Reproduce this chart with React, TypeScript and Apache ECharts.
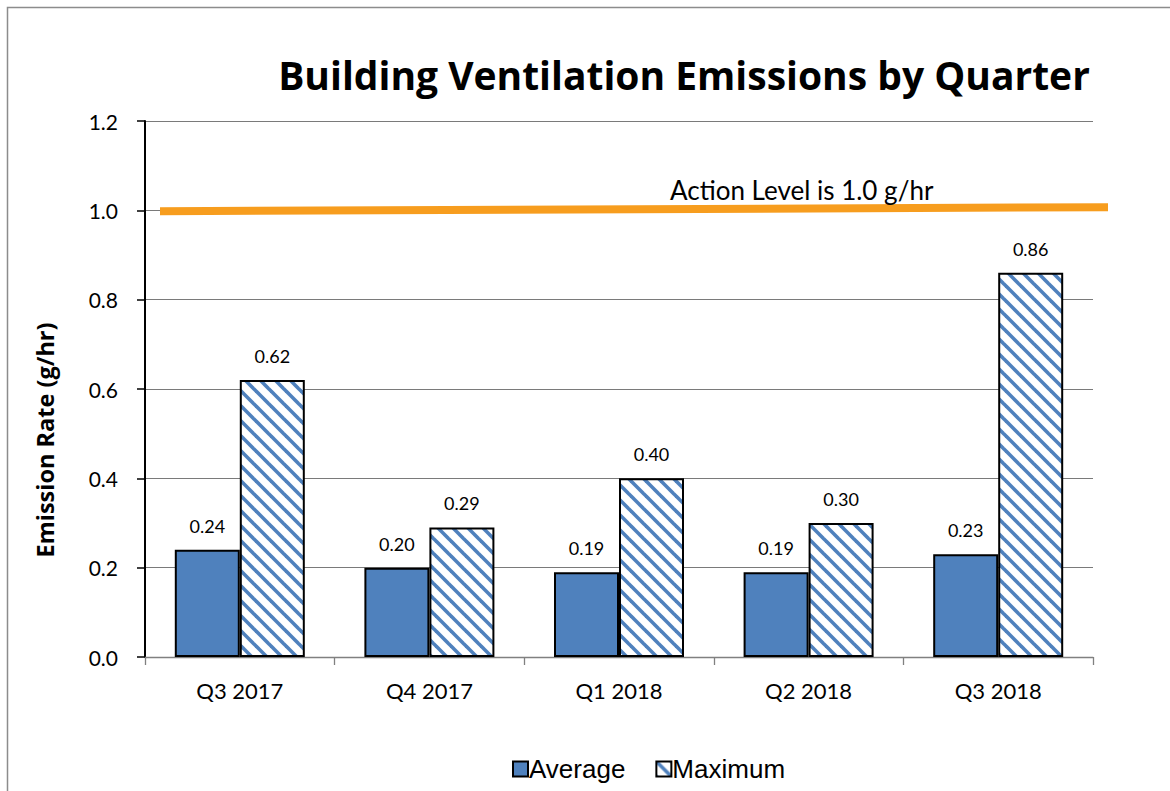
import React, { useEffect, useRef } from "react";
import * as echarts from "echarts";

const categories = ["Q3 2017", "Q4 2017", "Q1 2018", "Q2 2018", "Q3 2018"];
const averageValues = [0.24, 0.2, 0.19, 0.19, 0.23];
const maximumValues = [0.62, 0.29, 0.4, 0.3, 0.86];
const actionLevelLine = [
  [0, 0.998],
  [1, 1.007],
];
const yMin = 0;
const yMax = 1.2;
const yInterval = 0.2;

function makeHatch(): HTMLCanvasElement {
  const P = 15;
  const c = document.createElement("canvas");
  c.width = P;
  c.height = P;
  const ctx = c.getContext("2d")!;
  ctx.fillStyle = "#ffffff";
  ctx.fillRect(0, 0, P, P);
  ctx.strokeStyle = "#4F81BD";
  ctx.lineWidth = 3.6;
  for (let k = -1; k <= 1; k++) {
    ctx.beginPath();
    ctx.moveTo(k * P - 2, -2);
    ctx.lineTo(k * P + P + 2, P + 2);
    ctx.stroke();
  }
  return c;
}

export default function App() {
  const ref = useRef<HTMLDivElement>(null);
  useEffect(() => {
    const chart = echarts.init(ref.current!, undefined, { renderer: "svg" });
    const hatch = makeHatch();
    const font = "Lato";
    chart.setOption({
      animation: false,
      backgroundColor: "#ffffff",
      title: {
        text: "Building Ventilation Emissions by Quarter",
        left: 679,
        textAlign: "center",
        top: 50,
        textStyle: { fontFamily: "Open Sans", fontWeight: "bold", fontSize: 39, color: "#000" },
      },
      legend: {
        left: 507,
        top: 751,
        itemWidth: 15,
        itemHeight: 15,
        itemGap: 30,
        icon: "rect",
        textStyle: { fontFamily: "Liberation Sans", fontSize: 26, color: "#000", padding: [0, 0, 0, -4] },
        data: ["Average", "Maximum"],
      },
      graphic: [
        {
          type: "rect",
          shape: { x: 7.5, y: 7.5, width: 1300, height: 1000 },
          style: { fill: "none", stroke: "#8c8c8c", lineWidth: 1.5 },
          silent: true,
          z: -1,
        },
        {
          type: "text",
          left: 670,
          top: 177,
          style: { text: "Action Level is 1.0 g/hr", fontFamily: font, fontSize: 26, fill: "#000" },
          z: 10,
        },
        {
          type: "text",
          x: 45,
          y: 440,
          rotation: Math.PI / 2,
          style: {
            text: "Emission Rate (g/hr)",
            fontFamily: "Open Sans",
            fontWeight: "bold",
            fontSize: 23.5,
            fill: "#000",
            align: "center",
            verticalAlign: "middle",
          },
        },
      ],
      grid: [
        { left: 145, right: 77, top: 121, bottom: 134 },
        { left: 160, right: 62, top: 121, bottom: 134 },
      ],
      xAxis: [
        {
          type: "category",
          data: categories,
          gridIndex: 0,
          axisLine: { lineStyle: { color: "#808080", width: 1.3 } },
          axisTick: { show: true, length: 8, lineStyle: { color: "#808080", width: 1.3 } },
          axisLabel: { fontFamily: font, fontSize: 22, color: "#000", margin: 22 },
        },
        { type: "value", gridIndex: 1, min: 0, max: 1, show: false },
      ],
      yAxis: [
        {
          type: "value",
          gridIndex: 0,
          min: yMin,
          max: yMax,
          interval: yInterval,
          axisLine: { show: true, lineStyle: { color: "#000", width: 2 } },
          axisTick: { show: true, length: 8, lineStyle: { color: "#000", width: 1.5 } },
          axisLabel: {
            fontFamily: font,
            fontSize: 21,
            color: "#000",
            margin: 27,
            formatter: (v: number) => v.toFixed(1),
          },
          splitLine: { lineStyle: { color: "#7a7a7a", width: 1 } },
        },
        { type: "value", gridIndex: 1, min: yMin, max: yMax, show: false },
      ],
      series: [
        {
          name: "Average",
          type: "bar",
          data: averageValues,
          barWidth: 65,
          barGap: "0%",
          itemStyle: { color: "#4F81BD", borderColor: "#000", borderWidth: 2 },
          label: {
            show: true,
            position: "top",
            distance: 15,
            fontFamily: font,
            fontSize: 18,
            color: "#000",
            formatter: (p: any) => Number(p.value).toFixed(2),
          },
        },
        {
          name: "Maximum",
          type: "bar",
          data: maximumValues,
          barWidth: 65,
          barGap: "0%",
          itemStyle: {
            color: { image: hatch, repeat: "repeat" },
            borderColor: "#000",
            borderWidth: 2,
          },
          label: {
            show: true,
            position: "top",
            distance: 15,
            fontFamily: font,
            fontSize: 18,
            color: "#000",
            formatter: (p: any) => Number(p.value).toFixed(2),
          },
        },
        {
          name: "Action Level",
          type: "line",
          xAxisIndex: 1,
          yAxisIndex: 1,
          data: actionLevelLine,
          symbol: "none",
          lineStyle: { color: "#F79D1E", width: 8 },
          z: 5,
          silent: true,
        },
      ],
    });
    return () => chart.dispose();
  }, []);
  return (
    <div
      ref={ref}
      style={{ position: "fixed", left: 0, top: 0, width: 1170, height: 791 }}
    />
  );
}
